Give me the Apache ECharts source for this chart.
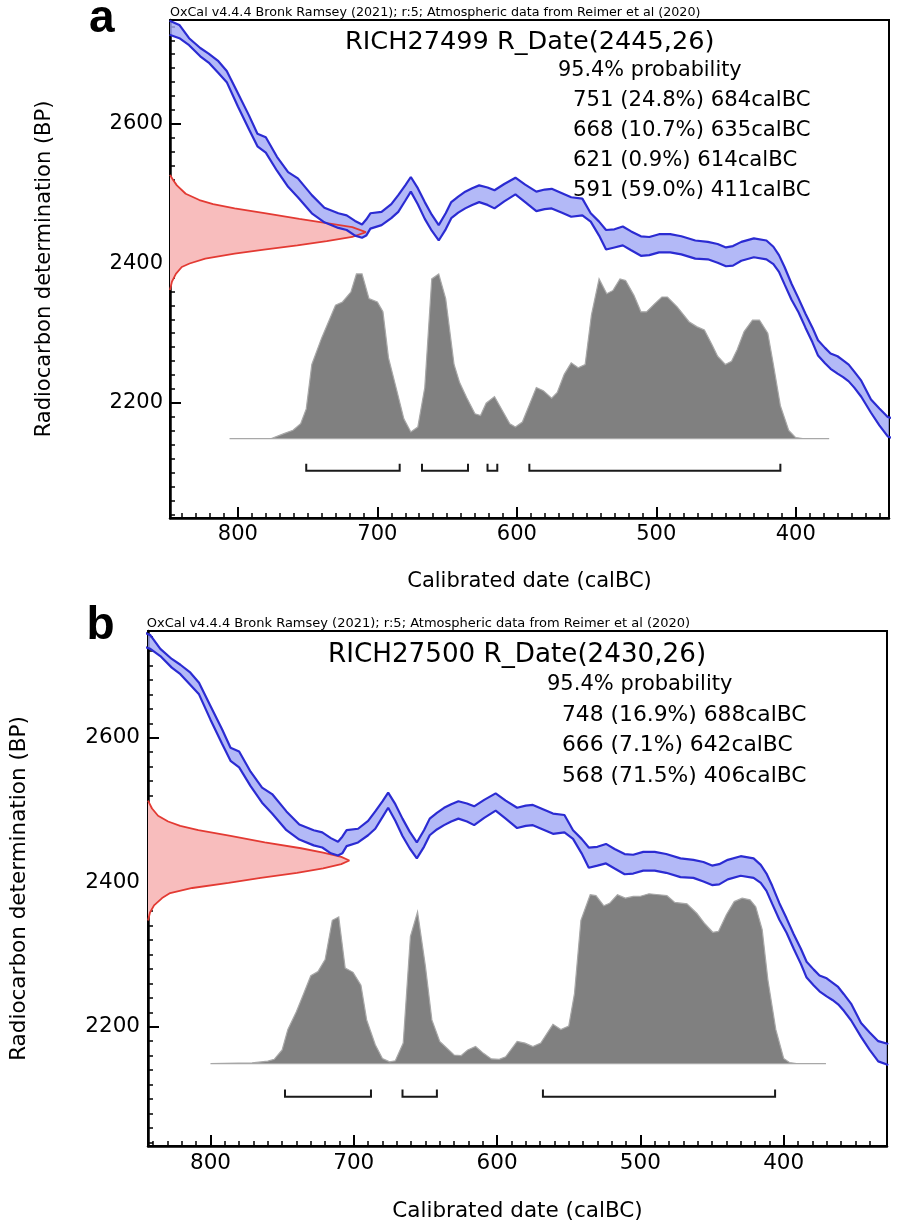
<!DOCTYPE html>
<html>
<head>
<meta charset="utf-8">
<script src="https://cdn.jsdelivr.net/npm/echarts@6/dist/echarts.min.js"></script>
<style>html,body{margin:0;padding:0;background:#fff}#c{width:897px;height:1231px}</style>
</head>
<body>
<div id="c"></div>
<script>
// ---------------- DATA ----------------
// IntCal20 calibration curve (1-sigma envelope)
const curveCalBC = [849,842,835,827,821,814,808,800,792,786,780,772,764,757,747,738,728,722,716,711,708,705,697,690,685,680,676,671,666,661,656,651,647,642,637,632,627,621,616,609,601,594,586,580,575,568,561,553,547,541,536,530,524,518,511,505,498,490,482,472,463,456,450,445,439,430,421,416,412,408,403,398,393,388,384,379,375,370,366,362,358,353,346,340,334,327];
const curveUpperBP = [2748,2742,2723,2709,2701,2690,2676,2644,2612,2586,2581,2553,2531,2522,2498,2480,2472,2469,2461,2456,2463,2472,2474,2485,2498,2512,2524,2508,2488,2470,2455,2472,2488,2496,2503,2508,2512,2509,2505,2514,2523,2513,2503,2506,2507,2501,2495,2493,2472,2460,2448,2449,2453,2446,2439,2438,2442,2442,2439,2433,2431,2428,2423,2425,2431,2436,2433,2424,2412,2395,2371,2350,2328,2308,2290,2279,2271,2267,2261,2255,2245,2232,2205,2192,2180,2176];
const curveLowerBP = [2728,2723,2713,2697,2688,2673,2660,2625,2592,2568,2559,2533,2510,2495,2472,2459,2451,2448,2440,2437,2440,2450,2455,2465,2474,2490,2503,2485,2464,2447,2433,2449,2465,2473,2479,2484,2488,2484,2479,2489,2499,2488,2475,2478,2479,2473,2467,2469,2460,2440,2420,2423,2426,2419,2411,2412,2416,2416,2413,2407,2406,2401,2396,2397,2404,2409,2406,2399,2388,2370,2348,2330,2308,2287,2268,2257,2249,2242,2237,2231,2222,2209,2186,2168,2152,2147];

// Panel a : RICH27499 R_Date(2445,26)
const sampleA = 'RICH27499';
const dateA = 2445;
const errA = 26;
const redA_BP = [2362,2374,2385,2395,2400,2407,2414,2420,2426,2432,2438,2445,2452,2458,2464,2472,2479,2485,2491,2500,2512,2520,2527];
const redA_Density = [0,0.01,0.03,0.06,0.10,0.18,0.33,0.48,0.65,0.80,0.93,1.0,0.93,0.80,0.66,0.49,0.33,0.22,0.15,0.08,0.035,0.015,0];
const grayA_calBC = [806,776,767,760.5,755,751,747,740,730,725,719,715,711,706,700,696,692,686,681,676,671,666,661,656,651,645,641,636,630,626,622,616,611,605,601,596,586,581,575,571,566,561,556,551,546.5,541,535.5,531,526,522,516,511,507,501,496,492,485,476.5,471,465.5,460,456,450.5,446,442,437,431,426,420,416,411,405,400,395,376];
const grayA_Prob = [0,0,0.03,0.05,0.09,0.18,0.45,0.61,0.81,0.83,0.89,1.0,1.0,0.85,0.83,0.77,0.49,0.29,0.12,0.04,0.07,0.31,0.97,1.0,0.85,0.45,0.34,0.25,0.15,0.14,0.215,0.255,0.18,0.09,0.07,0.10,0.31,0.29,0.245,0.28,0.39,0.46,0.43,0.45,0.75,0.97,0.88,0.90,0.97,0.96,0.87,0.77,0.77,0.82,0.86,0.86,0.80,0.71,0.68,0.66,0.57,0.50,0.45,0.47,0.54,0.65,0.72,0.72,0.64,0.45,0.20,0.05,0.006,0,0];
const rangeFromA = [751,668,621,591];
const rangePctA = ['24.8','10.7','0.9','59.0'];
const rangeToA = [684,635,614,411];

// Panel b : RICH27500 R_Date(2430,26)
const sampleB = 'RICH27500';
const dateB = 2430;
const errB = 26;
const redB_BP = [2347,2358,2368,2378,2385,2392,2399,2406,2413,2419,2425,2430,2435,2441,2447,2455,2464,2472,2478,2484,2492,2502,2513];
const redB_Density = [0,0.01,0.03,0.07,0.11,0.22,0.40,0.56,0.74,0.87,0.96,1.0,0.96,0.87,0.76,0.58,0.41,0.25,0.16,0.10,0.05,0.02,0];
const grayB_calBC = [800,771,760,755.5,750,746,740,735,730,725,720,715,710.5,706,700.5,695,691,685,680,675,671,665.5,660.5,655.5,650,645.5,640,630,625,620.5,615,609.5,604,598.5,594,586,580.5,575,569.5,561,555.5,550,546,541.5,535,531,525.5,521.5,516,510.5,505,500.5,494,487,481.5,476,467.5,460.5,455,449.5,445.5,440,434.5,429,423.5,419.5,415,411,405.5,400,396,391,370.5];
const grayB_Prob = [0,0.004,0.014,0.025,0.08,0.20,0.305,0.41,0.515,0.54,0.61,0.84,0.86,0.56,0.535,0.46,0.256,0.11,0.03,0.01,0.016,0.12,0.745,0.89,0.57,0.256,0.13,0.05,0.047,0.08,0.10,0.06,0.027,0.025,0.04,0.13,0.12,0.10,0.12,0.23,0.20,0.22,0.41,0.84,0.99,0.985,0.925,0.94,0.99,0.97,0.98,0.98,0.996,0.99,0.985,0.945,0.937,0.88,0.82,0.77,0.775,0.873,0.95,0.97,0.96,0.92,0.785,0.49,0.20,0.03,0.006,0,0];
const rangeFromB = [748,666,568];
const rangePctB = ['16.9','7.1','71.5'];
const rangeToB = [688,642,406];

// Axis ticks
const xMajorTicks = [800,700,600,500,400];
const yMajorTicks = [2200,2400,2600];

const headerText = 'OxCal v4.4.4 Bronk Ramsey (2021); r:5; Atmospheric data from Reimer et al (2020)';
const probText = '95.4% probability';

// ---------------- LAYOUT ----------------
const FONT = 'DejaVu Sans';
const GRAY_BASE_BP = 2149;   // baseline of calibrated distribution
const GRAY_HEIGHT_BP = 236;  // height of max probability in BP units
const RED_WIDTH_YR = 140.5;  // width of unit density in calendar years
const BRACKET_BP = 2103, BRACKET_TOP_BP = 2113;

const minorX = []; for (let v = 340; v <= 840; v += 10) minorX.push(v);
const minorY = []; for (let v = 2040; v <= 2740; v += 20) minorY.push(v);

const plain = v => String(v);

const panels = [
  { grid:{left:170, top:20, width:719, height:498}, xMin:333.1, xMax:848.7, yMin:2035.1, yMax:2749.1,
    redBP:redA_BP, redD:redA_Density, grayX:grayA_calBC, grayP:grayA_Prob,
    rFrom:rangeFromA, rPct:rangePctA, rTo:rangeToA,
    xNameGap:53, yNameGap:115, yLabelMargin:7, fs:21 },
  { grid:{left:147, top:631, width:740, height:515}, xMin:327.9, xMax:843.6, yMin:2034.9, yMax:2747.7,
    redBP:redB_BP, redD:redB_Density, grayX:grayB_calBC, grayP:grayB_Prob,
    rFrom:rangeFromB, rPct:rangePctB, rTo:rangeToB,
    xNameGap:54, yNameGap:118, yLabelMargin:8, fs:21.5 }
];

const grids = [], xAxes = [], yAxes = [], series = [];
panels.forEach((p, g) => {
  grids.push(Object.assign({show:true, borderColor:'#000', borderWidth:2, backgroundColor:'transparent', containLabel:false}, p.grid));
  // x axes: main, minor, density
  xAxes.push({type:'value', gridIndex:g, min:p.xMin, max:p.xMax, inverse:true, position:'bottom',
    axisLine:{show:true, onZero:false, lineStyle:{color:'#000', width:2.5}},
    axisTick:{show:true, inside:true, length:11, customValues:xMajorTicks, lineStyle:{color:'#000', width:2}},
    axisLabel:{show:true, customValues:xMajorTicks, formatter:plain, margin:6, fontFamily:FONT, fontSize:p.fs, color:'#000'},
    splitLine:{show:false},
    name:'Calibrated date (calBC)', nameLocation:'middle', nameGap:p.xNameGap,
    nameTextStyle:{fontFamily:FONT, fontSize:p.fs, color:'#000'}});
  xAxes.push({type:'value', gridIndex:g, min:p.xMin, max:p.xMax, inverse:true, position:'bottom', offset:0,
    axisLine:{show:false, onZero:false}, axisLabel:{show:false}, splitLine:{show:false},
    axisTick:{show:true, inside:true, length:5, customValues:minorX, lineStyle:{color:'#000', width:1.5}}});
  xAxes.push({type:'value', gridIndex:g, min:0, max:(p.xMax - p.xMin) / RED_WIDTH_YR, position:'top', show:false,
    axisLine:{onZero:false}});
  // y axes: main, minor, probability
  yAxes.push({type:'value', gridIndex:g, min:p.yMin, max:p.yMax, position:'left',
    axisLine:{show:true, onZero:false, lineStyle:{color:'#000', width:2.5}},
    axisTick:{show:true, inside:true, length:11, customValues:yMajorTicks, lineStyle:{color:'#000', width:2}},
    axisLabel:{show:true, customValues:yMajorTicks, formatter:plain, margin:p.yLabelMargin, fontFamily:FONT, fontSize:p.fs, color:'#000'},
    splitLine:{show:false},
    name:'Radiocarbon determination (BP)', nameLocation:'middle', nameRotate:90, nameGap:p.yNameGap,
    nameTextStyle:{fontFamily:FONT, fontSize:p.fs, color:'#000'}});
  yAxes.push({type:'value', gridIndex:g, min:p.yMin, max:p.yMax, position:'left', offset:0,
    axisLine:{show:false, onZero:false}, axisLabel:{show:false}, splitLine:{show:false},
    axisTick:{show:true, inside:true, length:5, customValues:minorY, lineStyle:{color:'#000', width:1.5}}});
  yAxes.push({type:'value', gridIndex:g, min:(p.yMin - GRAY_BASE_BP) / GRAY_HEIGHT_BP, max:(p.yMax - GRAY_BASE_BP) / GRAY_HEIGHT_BP, position:'right', show:false,
    axisLine:{onZero:false}});

  const xi = 3 * g, yi = 3 * g;
  // Calibrated probability distribution (grey)
  series.push({type:'custom', xAxisIndex:xi, yAxisIndex:yi + 2, z:2, silent:true, clip:true,
    data:p.grayX.map((x, k) => [x, p.grayP[k]]),
    renderItem:(params, api) => {
      if (params.dataIndex !== 0) return null;
      const pts = p.grayX.map((x, k) => api.coord([x, p.grayP[k]]));
      return {type:'polygon', shape:{points:pts}, style:{fill:'#808080', stroke:'#a8a8a8', lineWidth:1.2}};
    }});
  // Radiocarbon measurement (red) fill
  series.push({type:'custom', xAxisIndex:xi + 2, yAxisIndex:yi, z:3, silent:true, clip:true,
    data:p.redBP.map((b, k) => [p.redD[k], b]),
    renderItem:(params, api) => {
      if (params.dataIndex !== 0) return null;
      const pts = p.redBP.map((b, k) => api.coord([p.redD[k], b]));
      return {type:'polygon', shape:{points:pts}, style:{fill:'#f8bdbd', stroke:'none'}};
    }});
  // Calibration curve band fill (blue)
  series.push({type:'custom', xAxisIndex:xi, yAxisIndex:yi, z:4, silent:true, clip:true,
    data:curveCalBC.map((x, k) => [x, curveUpperBP[k], curveLowerBP[k]]),
    renderItem:(params, api) => {
      if (params.dataIndex !== 0) return null;
      const pts = [];
      for (let k = 0; k < curveCalBC.length; k++) pts.push(api.coord([curveCalBC[k], curveUpperBP[k]]));
      for (let k = curveCalBC.length - 1; k >= 0; k--) pts.push(api.coord([curveCalBC[k], curveLowerBP[k]]));
      return {type:'polygon', shape:{points:pts}, style:{fill:'rgba(160,168,245,0.8)', stroke:'none'}};
    }});
  // Red outline
  series.push({type:'line', xAxisIndex:xi + 2, yAxisIndex:yi, z:5, silent:true, symbol:'none', smooth:false,
    data:p.redBP.map((b, k) => [p.redD[k], b]), lineStyle:{color:'#e33a33', width:1.8}});
  // Blue outlines
  series.push({type:'line', xAxisIndex:xi, yAxisIndex:yi, z:6, silent:true, symbol:'none', smooth:false, clip:true,
    data:curveCalBC.map((x, k) => [x, curveUpperBP[k]]), lineStyle:{color:'#2b2bd2', width:2.2}});
  series.push({type:'line', xAxisIndex:xi, yAxisIndex:yi, z:6, silent:true, symbol:'none', smooth:false, clip:true,
    data:curveCalBC.map((x, k) => [x, curveLowerBP[k]]), lineStyle:{color:'#2b2bd2', width:2.2}});
  // 95.4% range brackets
  series.push({type:'custom', xAxisIndex:xi, yAxisIndex:yi, z:6, silent:true,
    data:p.rFrom.map((f, k) => [f, p.rTo[k]]),
    renderItem:(params, api) => {
      const a = api.value(0), b = api.value(1);
      const pts = [api.coord([a, BRACKET_TOP_BP]), api.coord([a, BRACKET_BP]), api.coord([b, BRACKET_BP]), api.coord([b, BRACKET_TOP_BP])];
      return {type:'polyline', shape:{points:pts}, style:{stroke:'#1a1a1a', lineWidth:2, fill:null}};
    }});
});

// ---------------- TEXT ----------------
const graphics = [];
function txt(x, baseline, text, size, family, weight) {
  graphics.push({type:'text', x:x, y:baseline - 0.3 * size, silent:true, z:10,
    style:{text:text, fontFamily:family || FONT, fontSize:size, fontWeight:weight || 'normal', fill:'#000', align:'left', verticalAlign:'middle'}});
}
// panel a
txt(89, 33.5, 'a', 46, 'Liberation Sans', 'bold');
txt(170, 16.7, headerText, 12.7);
txt(345, 50, sampleA + ' R_Date(' + dateA + ',' + errA + ')', 25.6);
txt(558, 77, probText, 20.8);
rangeFromA.forEach((f, k) => txt(573, 107 + 30 * k, f + ' (' + rangePctA[k] + '%) ' + rangeToA[k] + 'calBC', 21.2));
// panel b
txt(86.5, 640, 'b', 46, 'Liberation Sans', 'bold');
txt(146.7, 628, headerText, 13);
txt(328, 663, sampleB + ' R_Date(' + dateB + ',' + errB + ')', 26.2);
txt(547, 690.7, probText, 21);
rangeFromB.forEach((f, k) => txt(562, 721.7 + 30.4 * k, f + ' (' + rangePctB[k] + '%) ' + rangeToB[k] + 'calBC', 21.8));

const chart = echarts.init(document.getElementById('c'), null, {renderer:'canvas'});
chart.setOption({
  animation:false,
  backgroundColor:'#fff',
  textStyle:{fontFamily:FONT},
  grid:grids, xAxis:xAxes, yAxis:yAxes, series:series, graphic:graphics
});
</script>
</body>
</html>
